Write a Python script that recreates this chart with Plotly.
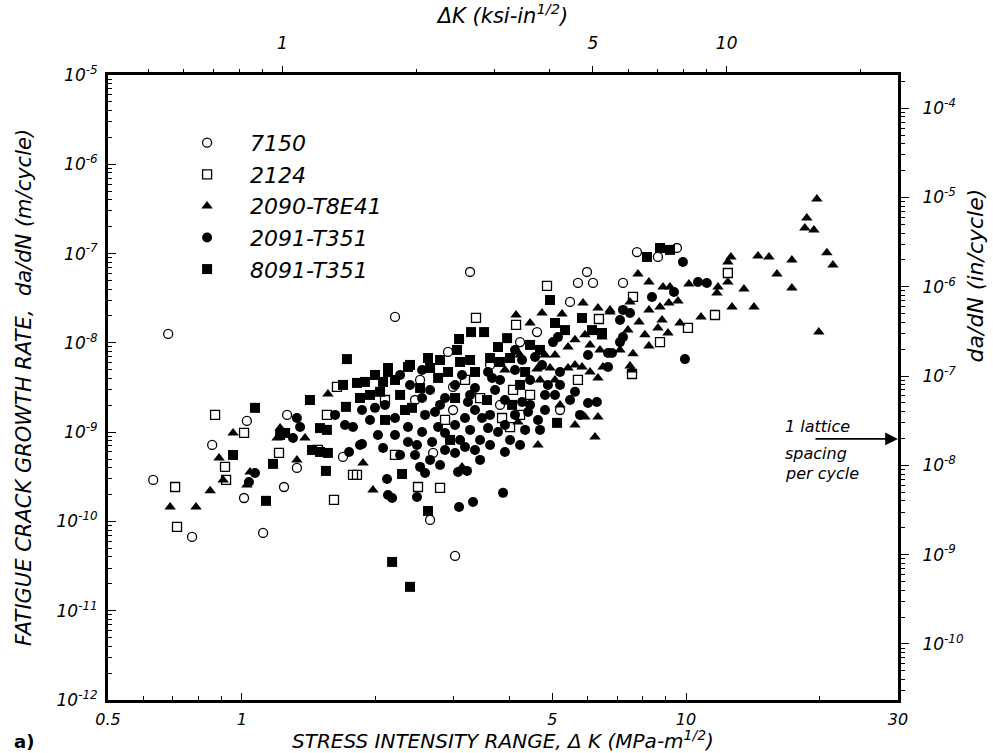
import math
import plotly.graph_objects as go

# ---------------- data ----------------
# each pair: (stress intensity range dK [MPa m^1/2], da/dN [m/cycle])
pts_7150 = [(0.683, 1.26e-8), (0.632, 2.92e-10), (0.773, 6.71e-11), (0.858, 7.19e-10), (1.027, 1.335e-9),
            (1.012, 1.83e-10), (1.117, 7.44e-11), (1.245, 2.43e-10), (1.69, 5.28e-10), (1.265, 1.56e-9),
            (1.331, 3.97e-10), (3.021, 4.11e-11), (2.654, 1.04e-10), (2.99, 3.21e-9), (2.52, 3.84e-9),
            (2.99, 1.77e-9), (2.696, 5.85e-10), (3.265, 6.22e-8), (2.213, 1.95e-8), (5.985, 6.22e-8),
            (5.711, 4.69e-8), (6.175, 4.69e-8), (5.482, 2.87e-8), (4.62, 1.32e-8), (2.913, 7.91e-9),
            (4.231, 1.02e-8), (7.755, 1.04e-7), (9.54, 1.155e-7), (8.645, 9.16e-8), (7.213, 4.69e-8),
            (3.814, 2.02e-9), (5.205, 1.77e-9), (3.622, 5.66e-9), (2.455, 2.29e-9)]

pts_2124 = [(0.708, 2.43e-10), (0.715, 8.70e-11), (0.871, 1.56e-9), (0.917, 4.08e-10), (0.922, 2.92e-10),
            (1.012, 9.80e-10), (1.213, 5.85e-10), (1.484, 6.32e-10), (1.555, 1.56e-9), (1.613, 1.74e-10),
            (1.780, 3.32e-10), (1.638, 3.21e-9), (2.493, 2.43e-10), (2.795, 2.37e-10), (1.817, 3.32e-10),
            (3.854, 1.44e-9), (4.017, 1.14e-9), (4.08, 2.97e-9), (5.711, 3.84e-9), (3.367, 1.90e-8),
            (4.865, 4.34e-8), (6.367, 1.85e-8), (4.144, 1.59e-8), (12.42, 6.06e-8), (11.62, 2.05e-8),
            (10.10, 1.47e-8), (7.597, 3.27e-8), (8.738, 1.02e-8), (7.558, 4.48e-9), (2.868, 1.37e-9),
            (3.439, 2.41e-9), (4.456, 2.61e-9), (2.213, 5.55e-10), (3.181, 3.84e-9), (4.231, 1.56e-9),
            (2.101, 2.29e-9)]

pts_2090 = [(0.690, 1.45e-10), (0.789, 1.45e-10), (0.849, 2.20e-10), (0.889, 5.14e-10), (0.908, 2.92e-10),
            (0.956, 9.80e-10), (1.027, 2.56e-10), (1.044, 3.58e-10), (1.220, 1.11e-9), (1.201, 8.61e-10),
            (1.331, 4.89e-10), (1.388, 8.61e-10), (1.563, 2.68e-9), (1.974, 2.25e-10), (1.875, 4.52e-10),
            (3.132, 4.08e-10), (4.643, 7.19e-10), (5.923, 1.48e-9), (6.335, 1.48e-9), (6.238, 8.83e-10),
            (6.335, 4.05e-9), (4.62, 5.10e-9), (5.425, 5.23e-9), (5.833, 5.37e-9), (6.503, 5.37e-9),
            (4.186, 1.30e-9), (5.864, 2.80e-8), (6.335, 2.46e-8), (6.744, 2.34e-8), (4.144, 2.05e-8),
            (4.741, 2.16e-8), (5.259, 2.11e-8), (4.456, 1.67e-8), (5.425, 8.98e-9), (6.470, 1.16e-8),
            (4.942, 5.23e-9), (19.70, 4.09e-7), (18.70, 2.50e-7), (18.51, 1.93e-7), (19.40, 1.84e-7),
            (20.75, 1.02e-7), (21.41, 7.46e-8), (19.90, 1.32e-8), (17.31, 8.48e-8), (16.02, 5.91e-8),
            (17.31, 4.12e-8), (15.37, 9.16e-8), (14.52, 9.40e-8), (12.62, 9.16e-8), (12.42, 8.05e-8),
            (12.42, 4.81e-8), (13.50, 4.01e-8), (11.80, 4.22e-8), (11.74, 3.62e-8), (12.69, 2.52e-8),
            (14.22, 2.52e-8), (10.81, 1.95e-8), (10.15, 4.56e-8), (9.690, 1.67e-8), (7.795, 5.91e-8),
            (8.25, 4.81e-8), (8.875, 4.22e-8), (9.202, 4.22e-8), (9.59, 2.94e-8), (9.15, 2.80e-8),
            (7.480, 2.87e-8), (6.744, 2.22e-8), (8.25, 2.34e-8), (8.738, 2.52e-8), (8.83, 1.80e-8),
            (8.645, 1.47e-8), (7.84, 1.71e-8), (9.105, 1.29e-8), (8.08, 1.23e-8), (8.25, 9.23e-9),
            (7.40, 1.39e-8), (7.597, 7.53e-9), (7.480, 5.51e-9), (7.558, 4.97e-9), (3.912, 4.97e-9),
            (6.080, 9.48e-9), (5.625, 1.08e-8), (4.231, 7.32e-9), (5.071, 7.32e-9), (7.102, 8.33e-9),
            (4.692, 3.84e-9), (5.071, 3.84e-9), (5.625, 5.66e-9), (6.080, 4.72e-9), (4.815, 7.32e-9),
            (5.923, 1.23e-8), (6.403, 8.33e-9), (5.205, 2.02e-9), (5.625, 1.20e-9)]

pts_2091 = [(1.071, 3.49e-10), (1.038, 2.77e-10), (1.304, 8.61e-10), (1.331, 1.44e-9), (1.353, 1.14e-9),
            (1.744, 6.00e-10), (1.708, 1.20e-9), (1.780, 1.14e-9), (1.846, 7.19e-10), (1.622, 1.56e-9),
            (3.084, 1.45e-10), (3.316, 1.65e-10), (3.874, 2.09e-10), (2.123, 2.99e-10), (2.134, 1.98e-10),
            (2.180, 1.83e-10), (2.480, 1.88e-10), (2.520, 4.08e-10), (2.586, 3.49e-10), (1.865, 7.38e-10),
            (2.080, 6.65e-10), (3.021, 5.85e-10), (3.068, 3.58e-10), (3.214, 3.68e-10), (3.181, 6.83e-10),
            (3.350, 6.32e-10), (3.439, 4.89e-10), (3.912, 6.00e-10), (2.367, 7.76e-10), (2.480, 7.19e-10),
            (2.026, 9.30e-10), (2.213, 1.44e-9), (1.995, 1.87e-9), (1.865, 1.77e-9), (2.546, 2.41e-9),
            (2.723, 1.68e-9), (2.767, 1.14e-9), (2.868, 9.80e-10), (2.367, 1.14e-9), (2.546, 1.005e-9),
            (2.682, 7.76e-10), (3.181, 1.44e-9), (3.230, 2.18e-9), (3.475, 1.44e-9), (3.584, 1.11e-9),
            (3.774, 1.005e-9), (4.275, 2.18e-9), (4.41, 1.68e-9), (4.643, 1.37e-9), (4.692, 1.06e-9),
            (4.888, 3.38e-9), (5.071, 2.61e-9), (6.017, 2.12e-9), (6.30, 2.18e-9), (3.132, 4.37e-9),
            (3.350, 3.12e-9), (3.66, 4.05e-9), (3.584, 4.72e-9), (2.546, 4.97e-9), (4.122, 8.33e-9),
            (5.15, 1.16e-8), (6.017, 7.32e-9), (6.675, 7.70e-9), (6.675, 5.37e-9), (5.019, 1.02e-8),
            (4.275, 6.43e-9), (4.573, 6.95e-9), (4.741, 5.66e-9), (10.64, 4.81e-8), (11.14, 4.69e-8),
            (9.943, 6.58e-9), (9.842, 8.05e-8), (8.382, 3.27e-8), (7.213, 2.34e-8), (7.480, 2.16e-8),
            (7.102, 1.80e-8), (7.213, 1.16e-8), (7.102, 1.02e-8), (6.814, 7.70e-9), (9.395, 3.71e-8),
            (2.272, 4.37e-9), (2.654, 2.97e-9), (2.868, 2.41e-9), (3.814, 3.84e-9), (4.122, 4.97e-9),
            (4.456, 3.84e-9), (5.205, 4.72e-9), (5.625, 2.83e-9), (3.265, 1.06e-9), (3.021, 1.20e-9),
            (4.017, 8.18e-10), (4.343, 1.06e-9), (2.272, 5.55e-10), (2.795, 4.29e-10), (2.213, 9.30e-10),
            (3.439, 8.18e-10), (1.944, 1.37e-9), (2.101, 2.02e-9), (2.392, 3.38e-9), (2.586, 1.56e-9),
            (2.795, 2.02e-9), (3.021, 3.38e-9), (3.100, 8.18e-10), (3.350, 1.77e-9), (3.622, 1.56e-9),
            (3.717, 2.97e-9), (3.912, 1.20e-9), (4.122, 1.56e-9), (4.456, 2.02e-9), (4.815, 1.77e-9),
            (5.205, 3.38e-9), (5.482, 2.29e-9), (5.773, 1.56e-9), (4.815, 2.61e-9), (3.912, 2.29e-9),
            (3.265, 2.61e-9), (2.455, 5.55e-10), (2.654, 4.89e-10), (2.868, 6.32e-10), (3.622, 7.19e-10),
            (4.231, 7.19e-10)]

pts_8091 = [(1.725, 6.58e-9), (1.071, 1.87e-9), (0.956, 5.55e-10), (1.134, 1.70e-10), (1.176, 4.41e-10),
            (1.220, 9.30e-10), (1.252, 9.80e-10), (1.439, 6.32e-10), (1.500, 6.00e-10), (1.563, 5.85e-10),
            (1.547, 3.68e-10), (1.500, 1.11e-9), (1.555, 1.06e-9), (1.716, 1.92e-9), (1.424, 2.29e-9),
            (1.690, 3.38e-9), (1.817, 3.56e-9), (2.180, 3.52e-11), (2.392, 1.85e-11), (2.626, 1.31e-10),
            (2.295, 3.40e-10), (5.125, 1.27e-9), (1.894, 3.65e-9), (2.080, 3.65e-9), (2.134, 4.72e-9),
            (2.367, 5.37e-9), (2.767, 4.05e-9), (2.913, 4.72e-9), (2.417, 1.87e-9), (3.565, 2.29e-9),
            (4.059, 2.02e-9), (4.942, 3.02e-8), (5.833, 1.90e-8), (3.282, 1.32e-8), (3.511, 1.32e-8),
            (3.084, 1.105e-8), (3.956, 1.13e-8), (3.774, 8.98e-9), (5.071, 1.67e-8), (5.341, 1.39e-8),
            (6.143, 1.39e-8), (6.470, 1.29e-8), (3.052, 8.33e-9), (2.626, 6.77e-9), (2.392, 5.66e-9),
            (2.134, 5.23e-9), (8.738, 1.155e-7), (9.202, 1.10e-7), (8.17, 9.16e-8), (1.944, 2.61e-9),
            (2.272, 2.61e-9), (2.795, 6.43e-9), (3.265, 6.43e-9), (3.814, 6.11e-9), (4.231, 3.38e-9),
            (2.101, 1.37e-9), (2.944, 8.18e-10), (2.048, 2.83e-9), (2.213, 3.84e-9), (2.520, 3.12e-9),
            (2.654, 5.23e-9), (3.100, 6.11e-9), (3.350, 4.72e-9), (3.622, 6.77e-9), (4.017, 6.77e-9),
            (4.343, 4.72e-9), (4.692, 8.33e-9), (3.021, 2.41e-9), (2.331, 1.77e-9), (1.846, 2.41e-9),
            (1.995, 4.37e-9), (4.456, 9.48e-9)]

series_names = ["7150", "2124", "2090-T8E41", "2091-T351", "8091-T351"]

# axis ranges and tick labels
dk_range = (0.5, 30.0)                 # bottom axis, MPa m^1/2
rate_range = (1e-12, 1e-5)             # left axis, m/cycle
ksi_range = (0.405, 24.3)              # top axis as drawn, ksi in^1/2
in_range = (2.355e-11, 2.355e-4)       # right axis as drawn, in/cycle
bottom_ticks = [0.5, 1, 5, 10, 30]
bottom_labels = ["0.5", "1", "5", "10", "30"]
top_ticks = [1, 5, 10]
top_labels = ["1", "5", "10"]
left_exps = [-12, -11, -10, -9, -8, -7, -6, -5]
right_exps = [-10, -9, -8, -7, -6, -5, -4]
lattice_rate = 8.4e-10                 # arrow level, m/cycle

# ---------------- figure ----------------
FONT = "DejaVu Sans"
ink = "black"

styles = [
    dict(symbol="circle-open", size=9, color=ink, line=dict(width=1.3, color=ink)),
    dict(symbol="square-open", size=9, color=ink, line=dict(width=1.3, color=ink)),
    dict(symbol="triangle-up", size=10, color=ink, line=dict(width=0)),
    dict(symbol="circle", size=10, color=ink, line=dict(width=0)),
    dict(symbol="square", size=10, color=ink, line=dict(width=0)),
]

fig = go.Figure()
for name, pts, st in zip(series_names, [pts_7150, pts_2124, pts_2090, pts_2091, pts_8091], styles):
    xs = [p[0] for p in pts]
    ys = [p[1] for p in pts]
    fig.add_trace(go.Scatter(x=xs, y=ys, mode="markers", name=name, legendgroup=name,
                             marker=st, hoverinfo="x+y+name"))

# invisible trace to bind the secondary (top / right) axes
fig.add_trace(go.Scatter(x=[None], y=[None], xaxis="x2", yaxis="y2", showlegend=False,
                         mode="markers", hoverinfo="skip"))


def minor_vals(lo_exp, hi_exp):
    return [m * 10.0 ** e for e in range(lo_exp, hi_exp + 1) for m in range(2, 10)]


tickfont = dict(family=FONT, size=17, color=ink, style="italic")
titlefont = dict(family=FONT, size=21, color=ink, style="italic")

fig.update_layout(
    width=993, height=753,
    margin=dict(l=108, r=95, t=75, b=53, autoexpand=False),
    plot_bgcolor="white", paper_bgcolor="white",
    xaxis=dict(type="log", range=[math.log10(dk_range[0]), math.log10(dk_range[1])],
               tickmode="array", tickvals=bottom_ticks, ticktext=bottom_labels,
               ticks="inside", ticklen=7, tickwidth=1.2, tickcolor=ink,
               minor=dict(tickmode="array", tickvals=minor_vals(-1, 1), ticks="inside",
                          ticklen=4, tickcolor=ink, showgrid=False),
               showline=True, linewidth=3, linecolor=ink, mirror=False,
               showgrid=False, zeroline=False,
               tickfont=dict(family=FONT, size=16, color=ink, style="italic"), ticklabelstandoff=3,
               title=dict(text="STRESS INTENSITY RANGE, \u0394 K (MPa-m<sup>1/2</sup>)",
                          font=dict(family=FONT, size=20, color=ink, style="italic"), standoff=2)),
    xaxis2=dict(type="log", overlaying="x", side="top", anchor="y",
                range=[math.log10(ksi_range[0]), math.log10(ksi_range[1])],
                tickmode="array", tickvals=top_ticks, ticktext=top_labels,
                ticks="outside", ticklen=6, tickwidth=1.2, tickcolor=ink,
                minor=dict(tickmode="array", tickvals=minor_vals(-1, 1), ticks="outside",
                           ticklen=3, tickcolor=ink, showgrid=False),
                showline=True, linewidth=3, linecolor=ink,
                showgrid=False, zeroline=False, tickfont=tickfont, ticklabelstandoff=10,
                title=dict(text="\u0394K (ksi-in<sup>1/2</sup>)", font=titlefont, standoff=8)),
    yaxis=dict(type="log", range=[math.log10(rate_range[0]), math.log10(rate_range[1])],
               tickmode="array", tickvals=[10.0 ** e for e in left_exps],
               ticktext=["10<sup>%d</sup>" % e for e in left_exps],
               ticks="inside", ticklen=8, tickwidth=1.2, tickcolor=ink,
               minor=dict(tickmode="array", tickvals=minor_vals(-12, -6), ticks="inside",
                          ticklen=4, tickcolor=ink, showgrid=False),
               showline=True, linewidth=3, linecolor=ink,
               showgrid=False, zeroline=False, tickfont=tickfont, ticklabelstandoff=4,
               title=dict(text="FATIGUE CRACK GROWTH RATE,  da/dN (m/cycle)",
                          font=titlefont, standoff=20)),
    yaxis2=dict(type="log", overlaying="y", side="right", anchor="x",
                range=[math.log10(in_range[0]), math.log10(in_range[1])],
                tickmode="array", tickvals=[10.0 ** e for e in right_exps],
                ticktext=["10<sup>%d</sup>" % e for e in right_exps],
                ticks="outside", ticklen=8, tickwidth=1.2, tickcolor=ink,
                minor=dict(tickmode="array", tickvals=minor_vals(-11, -4), ticks="outside",
                           ticklen=4, tickcolor=ink, showgrid=False),
                showline=True, linewidth=3, linecolor=ink,
                showgrid=False, zeroline=False, tickfont=tickfont, ticklabelstandoff=10),
    legend=dict(x=0.071, y=0.925, xanchor="left", yanchor="top",
                font=dict(family=FONT, size=22, color=ink, style="italic"),
                itemwidth=76, tracegroupgap=4, bgcolor="rgba(0,0,0,0)",
                traceorder="normal"),
    showlegend=True,
)

annot_font = dict(family=FONT, size=16, color=ink, style="italic")
# arrow tip on the right axis; tail offset given in pixels
fig.add_annotation(x=math.log10(dk_range[1]), y=math.log10(lattice_rate), xref="x", yref="y",
                   ax=-84, ay=0, axref="pixel", ayref="pixel",
                   text="", showarrow=True, arrowhead=2, arrowsize=1.6, arrowwidth=1.6, arrowcolor=ink,
                   standoff=0, startstandoff=0)
for txt, yy in [("1 lattice", 0.4384), ("spacing", 0.3952), ("per cycle", 0.3632)]:
    fig.add_annotation(x=0.854, y=yy, xref="paper", yref="paper", text=txt, showarrow=False,
                       xanchor="left", yanchor="middle", font=annot_font)

fig.add_annotation(x=1.098, y=0.68, xref="paper", yref="paper", text="da/dN (in/cycle)",
                   showarrow=False, textangle=-90, xanchor="center", yanchor="middle",
                   font=dict(family=FONT, size=22, color=ink, style="italic"))
fig.add_annotation(x=-0.122, y=-0.067, xref="paper", yref="paper", text="<b>a)</b>",
                   showarrow=False, xanchor="left", yanchor="middle",
                   font=dict(family=FONT, size=18, color=ink))

fig.write_html("out.html")
